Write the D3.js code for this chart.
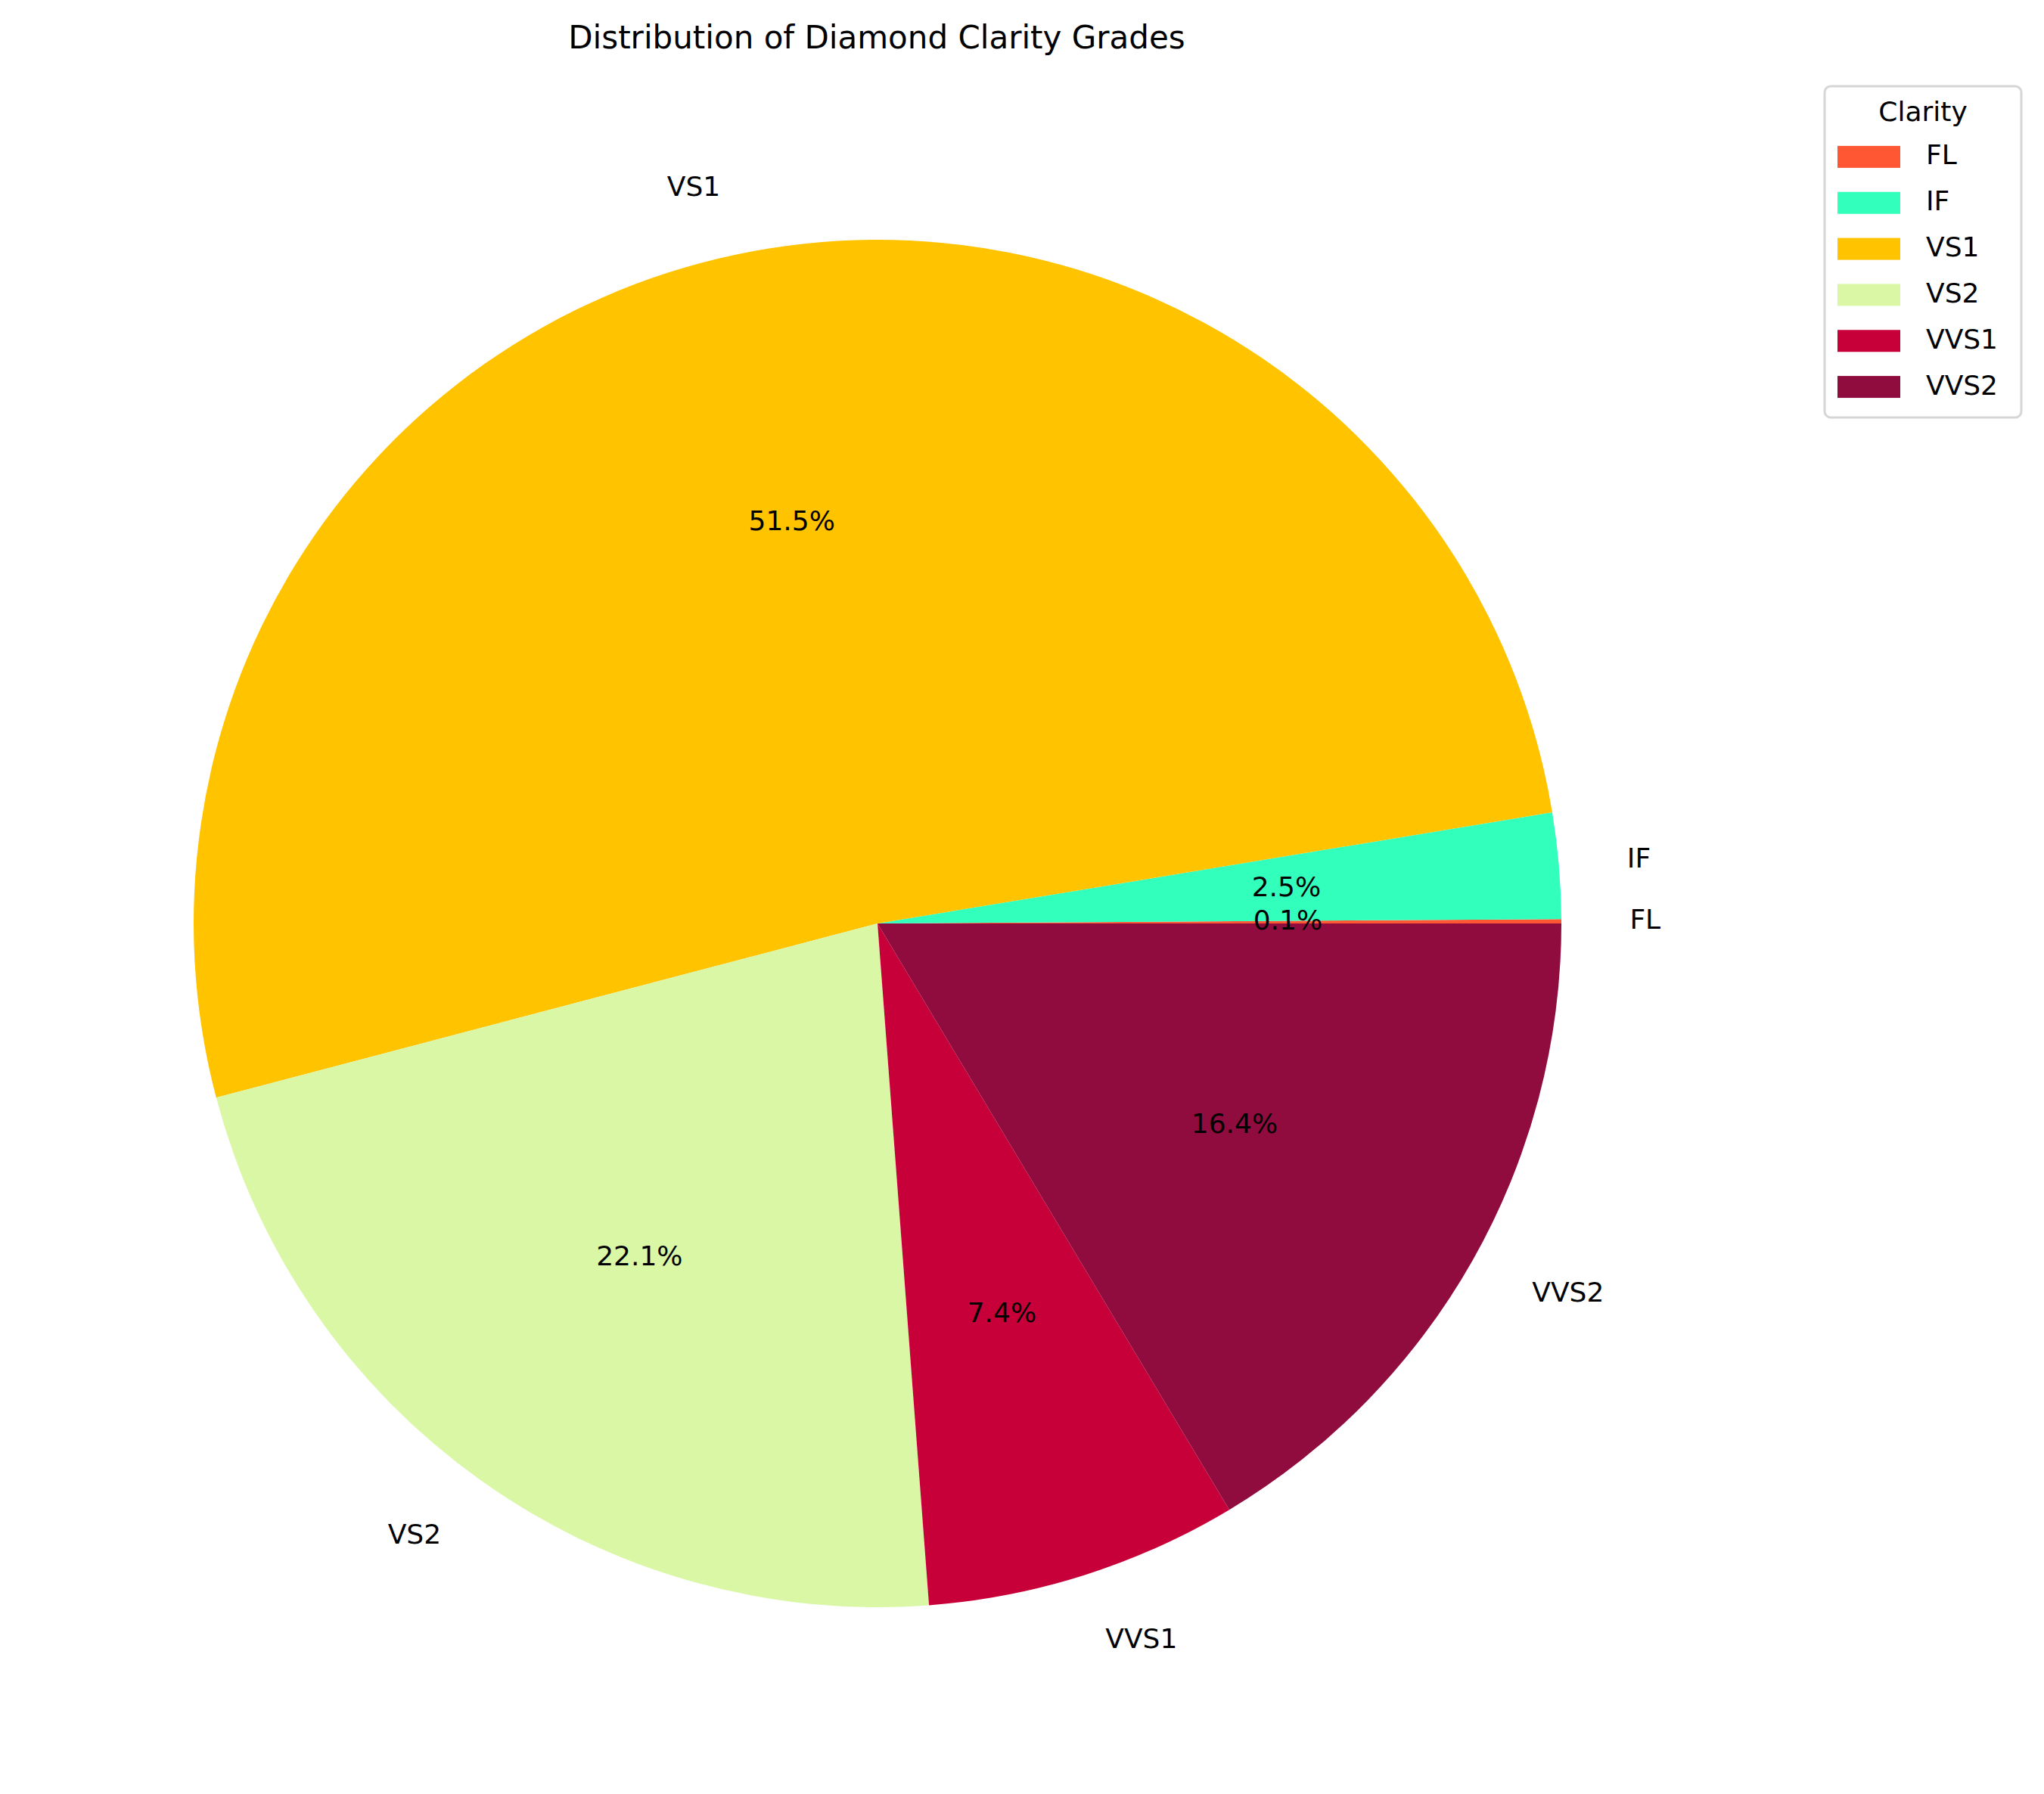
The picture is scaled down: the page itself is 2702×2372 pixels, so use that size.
<!DOCTYPE html><html><head><script src="https://d3js.org/d3.v7.min.js"></script>
<style>body{margin:0;background:#fff}text{font-family:"DejaVu Sans",sans-serif}</style></head><body>
<script>
const categories=["FL","IF","VS1","VS2","VVS1","VVS2"];
const values=[0.1,2.5,51.5,22.1,7.4,16.4];
const colors=["#ff5733","#33ffbd","#ffc300","#daf7a6","#c70039","#900c3f"];
const W=2702,H=2372,cx=1160,cy=1221,R=904;
const svg=d3.select("body").append("svg").attr("width",W).attr("height",H);
svg.append("text").attr("x",1159).attr("y",52).attr("text-anchor","middle").attr("dominant-baseline","middle").attr("font-size",42).text("Distribution of Diamond Clarity Grades");
const total=d3.sum(values);
// matplotlib: start at east, counterclockwise
const pie=d3.pie().sort(null).value(d=>d).startAngle(Math.PI/2).endAngle(Math.PI/2-2*Math.PI);
const arcs=pie(values);
const arc=d3.arc().innerRadius(0).outerRadius(R);
const g=svg.append("g").attr("transform",`translate(${cx},${cy})`);
g.selectAll("path").data(arcs).join("path").attr("d",arc).attr("fill",(d,i)=>colors[i]);
arcs.forEach((a,i)=>{
  const m=(a.startAngle+a.endAngle)/2; // d3 angle: 0 at north, clockwise
  const x=Math.sin(m),y=-Math.cos(m);
  g.append("text").attr("x",1.1*R*x).attr("y",1.1*R*y).attr("text-anchor",x>0?"start":"end").attr("dominant-baseline","middle").attr("font-size",36).text(categories[i]);
  g.append("text").attr("x",0.6*R*x).attr("y",0.6*R*y).attr("text-anchor","middle").attr("dominant-baseline","middle").attr("font-size",36).text((values[i]/total*100).toFixed(1)+"%");
});
const L=svg.append("g");
L.append("rect").attr("x",2412).attr("y",114).attr("width",260).attr("height",438).attr("rx",8).attr("fill","#fff").attr("stroke","#d6d6d6").attr("stroke-width",3);
L.append("text").attr("x",2542).attr("y",150).attr("text-anchor","middle").attr("dominant-baseline","middle").attr("font-size",36).text("Clarity");
const ly=d3.scaleBand().domain(categories).range([177,542]);
categories.forEach((c,i)=>{
  const y=ly(c)+ly.bandwidth()/2;
  L.append("rect").attr("x",2429).attr("y",y-14.5).attr("width",83).attr("height",29).attr("fill",colors[i]);
  L.append("text").attr("x",2546).attr("y",y).attr("dominant-baseline","middle").attr("font-size",36).text(c);
});
</script></body></html>
